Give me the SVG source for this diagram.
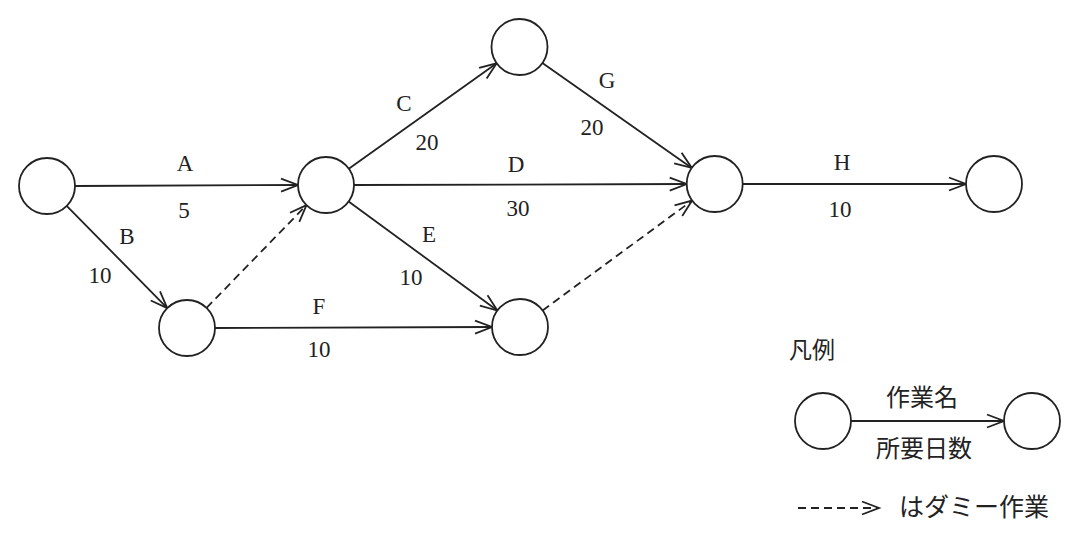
<svg xmlns="http://www.w3.org/2000/svg" width="1080" height="536" viewBox="0 0 1080 536">
<style>
.node{fill:#fff;stroke:#222;stroke-width:1.8}
.edge{fill:none;stroke:#222;stroke-width:1.8}
.dash{stroke-dasharray:8 5}
.lbl{font-family:"Liberation Serif","DejaVu Serif",serif;font-size:23px;fill:#222;text-anchor:middle}
.jp{font-family:"Noto Sans CJK JP","Noto Sans",sans-serif;font-size:23px;fill:#222}
</style>
<defs>
<marker id="arr" markerUnits="userSpaceOnUse" markerWidth="22" markerHeight="18" refX="18" refY="8" orient="auto" viewBox="0 0 22 16">
<path d="M1,1.5 L18,8 L1,14.5" fill="none" stroke="#222" stroke-width="1.8"/>
</marker>
</defs>
<rect width="1080" height="536" fill="#fff"/>
<g id="connectors">
<line class="edge" x1="75" y1="186" x2="298" y2="185" marker-end="url(#arr)"/>
<line class="edge" x1="66.7" y1="205.9" x2="167.3" y2="308.1" marker-end="url(#arr)"/>
<line class="edge dash" x1="206.5" y1="307.9" x2="306.5" y2="205.1" marker-end="url(#arr)"/>
<line class="edge" x1="215" y1="328" x2="492" y2="327" marker-end="url(#arr)"/>
<line class="edge" x1="348.8" y1="168.7" x2="496.7" y2="63.3" marker-end="url(#arr)"/>
<line class="edge" x1="354" y1="185" x2="686.7" y2="184" marker-end="url(#arr)"/>
<line class="edge" x1="348.6" y1="201.5" x2="497.4" y2="310.5" marker-end="url(#arr)"/>
<line class="edge" x1="542.4" y1="63.1" x2="691.8" y2="167.9" marker-end="url(#arr)"/>
<line class="edge dash" x1="542.6" y1="310.4" x2="692.1" y2="200.6" marker-end="url(#arr)"/>
<line class="edge" x1="742.7" y1="184" x2="966" y2="184" marker-end="url(#arr)"/>
<line class="edge" x1="851" y1="421" x2="1004" y2="421" marker-end="url(#arr)"/>
<line class="edge dash" x1="798" y1="508" x2="879" y2="508" marker-end="url(#arr)"/>
</g>
<g id="labels">
<text class="lbl" x="185" y="171">A</text>
<text class="lbl" x="184" y="218">5</text>
<text class="lbl" x="127" y="244">B</text>
<text class="lbl" x="100" y="283">10</text>
<text class="lbl" x="319" y="314">F</text>
<text class="lbl" x="319" y="357">10</text>
<text class="lbl" x="404" y="111">C</text>
<text class="lbl" x="427" y="150">20</text>
<text class="lbl" x="516" y="172">D</text>
<text class="lbl" x="518" y="216">30</text>
<text class="lbl" x="429" y="242">E</text>
<text class="lbl" x="411" y="285">10</text>
<text class="lbl" x="607" y="88">G</text>
<text class="lbl" x="592" y="135">20</text>
<text class="lbl" x="842" y="170">H</text>
<text class="lbl" x="840" y="217">10</text>
</g>
<g id="n1"><circle class="node" cx="47" cy="186" r="28"/></g>
<g id="n2"><circle class="node" cx="326" cy="185" r="28"/></g>
<g id="n3"><circle class="node" cx="519.5" cy="47" r="28"/></g>
<g id="n4"><circle class="node" cx="714.7" cy="184" r="28"/></g>
<g id="n5"><circle class="node" cx="994" cy="184" r="28"/></g>
<g id="n6"><circle class="node" cx="187" cy="328" r="28"/></g>
<g id="n7"><circle class="node" cx="520" cy="327" r="28"/></g>
<g id="legend">
<text class="jp" x="789" y="358">凡例</text>
<g id="legend-from"><circle class="node" cx="823" cy="421" r="28"/></g>
<g id="legend-to"><circle class="node" cx="1032" cy="421" r="28"/></g>
<text class="jp" x="922" y="406" text-anchor="middle" style="font-size:24px">作業名</text>
<text class="jp" x="924" y="457" text-anchor="middle" style="font-size:24px">所要日数</text>
<text class="jp" x="899" y="516" style="font-size:25px">はダミー作業</text>
</g>
</svg>
